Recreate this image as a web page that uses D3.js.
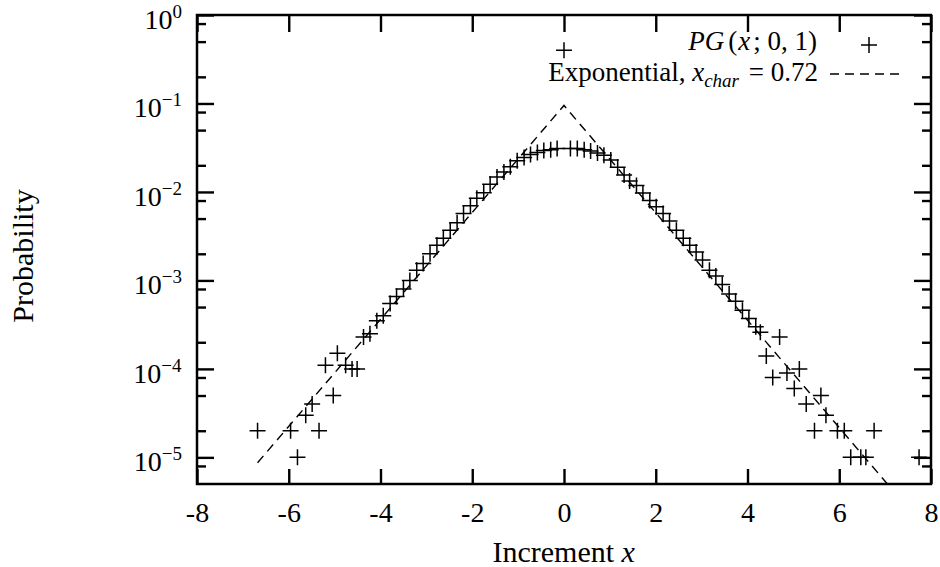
<!DOCTYPE html>
<html>
<head>
<meta charset="utf-8">
<script src="https://cdn.jsdelivr.net/npm/d3@7/dist/d3.min.js"></script>
<style>
  html, body { margin: 0; padding: 0; background: #fff; }
  svg { display: block; }
  text { font-family: "Liberation Serif", "Times New Roman", serif; fill: #000; }
  .tick line { stroke: #000; stroke-width: 2.4; }
</style>
</head>
<body>
<div id="chart"></div>
<script>
;(function(window, document, d3) {

    'use strict';

    // ---- data ----
    var incX = [
        -6.68, -5.96, -5.81, -5.63, -5.49, -5.34, -5.20, -5.03, -4.94, -4.76, -4.62, -4.51,
        -4.37, -4.23, -4.08, -3.94, -3.79, -3.65, -3.50, -3.36, -3.21, -3.07,
        -2.92, -2.77, -2.63, -2.48, -2.33, -2.19, -2.04, -1.90, -1.75, -1.61,
        -1.46, -1.31, -1.17, -1.02, -0.87, -0.73, -0.58, -0.44, -0.29, -0.15,
        0,
        0.14, 0.29, 0.44, 0.58, 0.73, 0.87, 1.02, 1.17, 1.31, 1.43,
        1.58, 1.72, 1.87, 2.01, 2.16, 2.30, 2.45, 2.60, 2.74, 2.88,
        3.02, 3.17, 3.31, 3.45, 3.60, 3.74, 3.89, 4.03, 4.18, 4.28,
        4.41, 4.55, 4.70, 4.86, 5.02, 5.13, 5.28, 5.46, 5.60, 5.71,
        5.96, 6.11, 6.25, 6.47, 6.58, 6.76, 7.74
    ];
    var probPG = [
        2e-5, 2e-5, 1e-5, 3e-5, 4e-5, 2e-5, 1.1e-4, 5e-5, 1.5e-4, 1.1e-4, 1e-4, 1e-4,
        2.3e-4, 2.5e-4, 3.5e-4, 4.0e-4, 5.5e-4, 6.6e-4, 8.0e-4, 1.0e-3, 1.3e-3, 1.55e-3,
        2.0e-3, 2.5e-3, 3.0e-3, 3.7e-3, 4.5e-3, 5.7e-3, 7.0e-3, 8.5e-3, 9.8e-3, 1.22e-2,
        1.48e-2, 1.68e-2, 1.93e-2, 2.25e-2, 2.45e-2, 2.65e-2, 2.8e-2, 2.95e-2, 3.0e-2, 3.1e-2,
        0.40,
        3.1e-2, 3.1e-2, 3.0e-2, 2.9e-2, 2.75e-2, 2.6e-2, 2.3e-2, 1.9e-2, 1.55e-2, 1.33e-2,
        1.18e-2, 9.7e-3, 8.0e-3, 6.8e-3, 5.7e-3, 4.7e-3, 3.7e-3, 3.0e-3, 2.5e-3, 2.1e-3,
        1.7e-3, 1.3e-3, 1.12e-3, 9.0e-4, 7.0e-4, 5.8e-4, 4.6e-4, 3.7e-4, 3.0e-4, 2.6e-4,
        1.4e-4, 8e-5, 2.3e-4, 9e-5, 6e-5, 1e-4, 4e-5, 2e-5, 5e-5, 3e-5,
        2e-5, 2e-5, 1e-5, 1e-5, 1e-5, 2e-5, 1e-5
    ];

    // exponential fit, straight on the log axis: ends and peak
    var expX = [-6.68, 0, 7.05];
    var expP = [8.7e-6, 0.095, 5.0e-6];

    var xTicks = [-8, -6, -4, -2, 0, 2, 4, 6, 8];
    var yMajor = [1, 1e-1, 1e-2, 1e-3, 1e-4, 1e-5];
    var yExp = ['0', '\u22121', '\u22122', '\u22123', '\u22124', '\u22125'];
    var yMinorMult = [2, 5, 8];

    /** ================ LAYOUT ================ */
    var W = 940, H = 567;
    var left = 197, right = 931, top = 15, bottom = 484;

    var x = d3.scaleLinear().domain([-8, 8]).range([left, right]);
    var y = d3.scaleLog().domain([5e-6, 1]).range([bottom, top]);

    var yMinor = [];
    yMajor.forEach(function(d) {
        yMinorMult.forEach(function(m) {
            var v = d * m / 10;
            if (v > 5.01e-6 && v < 1) { yMinor.push(v); }
        });
    });

    var svg = d3.select('#chart').append('svg')
        .attr('width', W)
        .attr('height', H);

    // place a multi-part text so that its right edge sits at xr
    var rightAlign = function(sel, xr) {
        var w = sel.node().getBBox().width;
        sel.attr('x', xr - w);
    };

    /** ================ AXES ================ */
    var gx = svg.append('g')
        .attr('transform', 'translate(0,' + bottom + ')')
        .call(d3.axisBottom(x).tickValues(xTicks).tickSize(-15).tickFormat(function(d) { return d < 0 ? '-' + (-d) : d; }));
    gx.select('.domain').remove();
    gx.selectAll('text')
        .attr('y', 38).attr('dy', 0)
        .style('font-size', '28px')
        .style('font-family', '"Liberation Serif", serif');

    var gxTop = svg.append('g')
        .attr('transform', 'translate(0,' + top + ')')
        .call(d3.axisTop(x).tickValues(xTicks).tickSize(-17).tickFormat(''));
    gxTop.select('.domain').remove();

    var gyMaj = svg.append('g')
        .attr('transform', 'translate(' + left + ',0)')
        .call(d3.axisLeft(y).tickValues(yMajor).tickSize(-17).tickFormat(''));
    gyMaj.select('.domain').remove();

    var gyMin = svg.append('g')
        .attr('transform', 'translate(' + left + ',0)')
        .call(d3.axisLeft(y).tickValues(yMinor).tickSize(-9).tickFormat(''));
    gyMin.select('.domain').remove();

    var gyMajR = svg.append('g')
        .attr('transform', 'translate(' + right + ',0)')
        .call(d3.axisRight(y).tickValues(yMajor).tickSize(-17).tickFormat(''));
    gyMajR.select('.domain').remove();

    var gyMinR = svg.append('g')
        .attr('transform', 'translate(' + right + ',0)')
        .call(d3.axisRight(y).tickValues(yMinor).tickSize(-9).tickFormat(''));
    gyMinR.select('.domain').remove();

    // y labels 10^n
    svg.append('g').selectAll('text')
        .data(yMajor)
        .join('text')
        .attr('y', function(d) { return y(d) + 14; })
        .style('font-size', '28px')
        .each(function(d, i) {
            var t = d3.select(this);
            t.append('tspan').text('10');
            t.append('tspan')
                .attr('dy', -11)
                .style('font-size', '19px')
                .text(yExp[i]);
            rightAlign(t, 182);
        });

    // frame
    svg.append('rect')
        .attr('x', left).attr('y', top)
        .attr('width', right - left).attr('height', bottom - top)
        .attr('fill', 'none')
        .attr('stroke', '#000')
        .attr('stroke-width', 2.5);

    // axis titles
    var xt = svg.append('text')
        .attr('y', 562)
        .style('font-size', '30px');
    xt.append('tspan').text('Increment ');
    xt.append('tspan').style('font-style', 'italic').text('x');
    xt.attr('x', (left + right) / 2 - xt.node().getBBox().width / 2);

    svg.append('text')
        .attr('transform', 'translate(33,256) rotate(-90)')
        .attr('text-anchor', 'middle')
        .style('font-size', '30px')
        .text('Probability');

    /** ================ SERIES ================ */
    var line = d3.line()
        .x(function(d, i) { return x(expX[i]); })
        .y(function(d, i) { return y(expP[i]); });

    svg.append('path')
        .datum(expX)
        .attr('d', line)
        .attr('fill', 'none')
        .attr('stroke', '#000')
        .attr('stroke-width', 1.4)
        .attr('stroke-dasharray', '9,6');

    var arm = 8;
    var cross = function(cx, cy) {
        return 'M' + (cx - arm) + ',' + cy + 'H' + (cx + arm) +
               'M' + cx + ',' + (cy - arm) + 'V' + (cy + arm);
    };

    svg.append('g').selectAll('path')
        .data(incX)
        .join('path')
        .attr('d', function(d, i) { return cross(x(d), y(probPG[i])); })
        .attr('stroke', '#000')
        .attr('stroke-width', 1.5)
        .attr('fill', 'none');

    /** ================ LEGEND ================ */
    // italic correction gaps keep the slanted glyphs clear of the upright ones
    var l1 = svg.append('text')
        .attr('y', 50)
        .style('font-size', '27px');
    l1.append('tspan').style('font-style', 'italic').text('PG');
    l1.append('tspan').attr('dx', 4).text('(');
    l1.append('tspan').attr('dx', 1).style('font-style', 'italic').text('x');
    l1.append('tspan').attr('dx', 3).text('; 0, 1)');
    rightAlign(l1, 818);

    svg.append('path')
        .attr('d', cross(869, 45))
        .attr('stroke', '#000')
        .attr('stroke-width', 1.5);

    var l2 = svg.append('text')
        .attr('y', 81)
        .style('font-size', '27px');
    l2.append('tspan').text('Exponential, ');
    l2.append('tspan').style('font-style', 'italic').text('x');
    l2.append('tspan').attr('dy', 6).style('font-style', 'italic').style('font-size', '19px').text('char');
    l2.append('tspan').attr('dx', 3).attr('dy', -6).text(' = 0.72');
    rightAlign(l2, 818);

    svg.append('line')
        .attr('x1', 830).attr('x2', 903)
        .attr('y1', 74).attr('y2', 74)
        .attr('stroke', '#000')
        .attr('stroke-width', 1.4)
        .attr('stroke-dasharray', '9,6');

}(window, document, window.d3));
</script>
</body>
</html>
